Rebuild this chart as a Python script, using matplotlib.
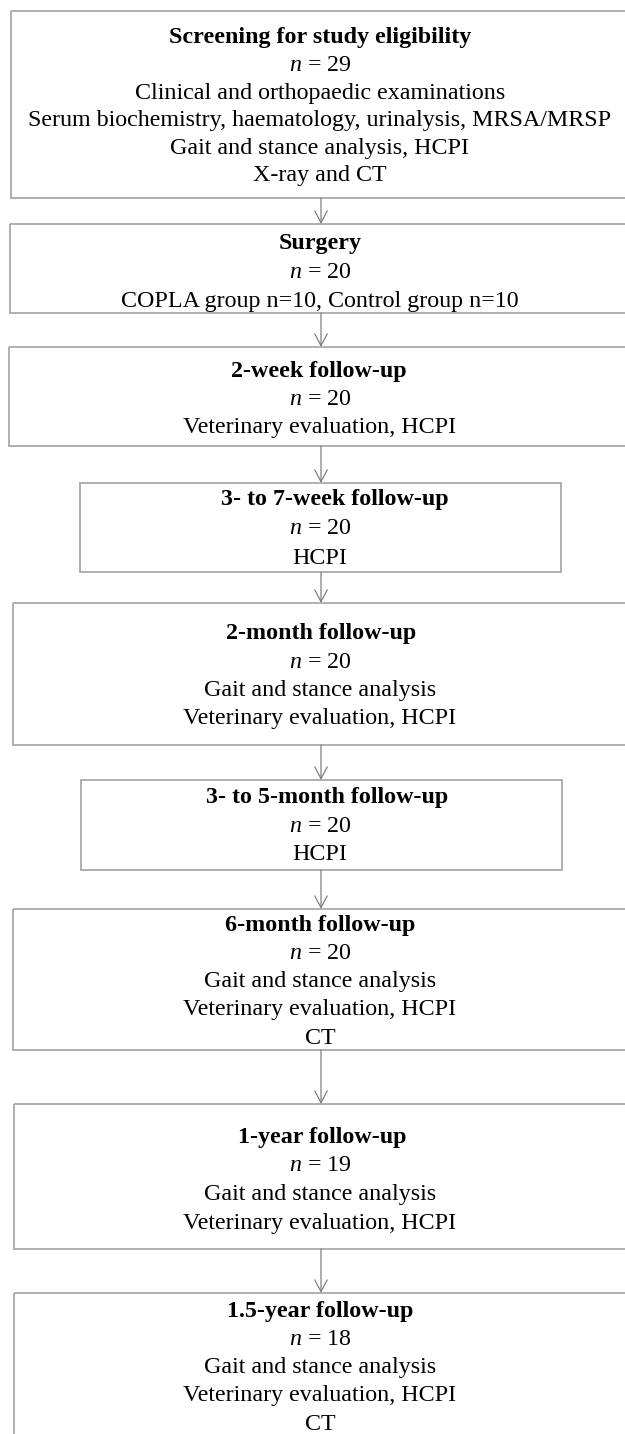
import matplotlib.pyplot as plt
from matplotlib.patches import Rectangle, FancyArrowPatch

# Flowchart content
titles = [
    "Screening for study eligibility",
    "Surgery",
    "2-week follow-up",
    "3- to 7-week follow-up",
    "2-month follow-up",
    "3- to 5-month follow-up",
    "6-month follow-up",
    "1-year follow-up",
    "1.5-year follow-up",
]
n_values = [29, 20, 20, 20, 20, 20, 20, 19, 18]
details = [
    ["Clinical and orthopaedic examinations",
     "Serum biochemistry, haematology, urinalysis, MRSA/MRSP",
     "Gait and stance analysis, HCPI",
     "X-ray and CT"],
    ["COPLA group n=10, Control group n=10"],
    ["Veterinary evaluation, HCPI"],
    ["HCPI"],
    ["Gait and stance analysis", "Veterinary evaluation, HCPI"],
    ["HCPI"],
    ["Gait and stance analysis", "Veterinary evaluation, HCPI", "CT"],
    ["Gait and stance analysis", "Veterinary evaluation, HCPI"],
    ["Gait and stance analysis", "Veterinary evaluation, HCPI", "CT"],
]

# Layout in image pixels (y measured from the top)
box_left = [11, 10, 9, 80, 13, 81, 13, 14, 14]
box_right = [640, 640, 640, 561, 640, 562, 640, 640, 640]
box_top = [11, 224, 347, 483, 603, 780, 909, 1104, 1293]
box_bottom = [198, 313, 446, 572, 745, 870, 1050, 1249, 1460]
first_line = [38, 243, 371, 500, 634, 798, 925, 1137, 1311]
line_gap = [27.6, 29, 28.5, 29, 28.3, 28.5, 28.25, 28.7, 28.25]
title_x = [320, 320, 319, 335, 321, 327, 320, 322, 320]
arrow_x = 321

W, H = 625, 1434
plt.rcParams["font.family"] = ["Liberation Serif", "DejaVu Serif"]
plt.rcParams["mathtext.fontset"] = "custom"
plt.rcParams["mathtext.rm"] = "Liberation Serif"
plt.rcParams["mathtext.it"] = "Liberation Serif:italic"

fig = plt.figure(figsize=(W / 100, H / 100), dpi=100)
ax = fig.add_axes([0, 0, 1, 1])
ax.set_xlim(0, W)
ax.set_ylim(H, 0)
ax.axis("off")

edge = "#a9a9a9"
fs = 17.3

for i, title in enumerate(titles):
    ax.add_patch(Rectangle((box_left[i], box_top[i]),
                           box_right[i] - box_left[i],
                           box_bottom[i] - box_top[i],
                           fill=False, edgecolor=edge, linewidth=1.3))
    y = first_line[i]
    ax.text(title_x[i], y, title, fontsize=fs, fontweight="bold",
            ha="center", va="center", color="black")
    y += line_gap[i]
    ax.text(320, y, r"$n$ = %d" % n_values[i], fontsize=fs,
            ha="center", va="center", color="black")
    for line in details[i]:
        y += line_gap[i]
        ax.text(320, y, line, fontsize=fs, ha="center", va="center",
                color="black")

# Connecting arrows between consecutive boxes
for i in range(len(titles) - 1):
    arr = FancyArrowPatch((arrow_x, box_bottom[i]), (arrow_x, box_top[i + 1]),
                          arrowstyle="->,head_length=0.85,head_width=0.45",
                          mutation_scale=10, color="#808080", linewidth=0.9,
                          shrinkA=0, shrinkB=0)
    ax.add_patch(arr)

fig.savefig("out.png", dpi=100, facecolor="white")
